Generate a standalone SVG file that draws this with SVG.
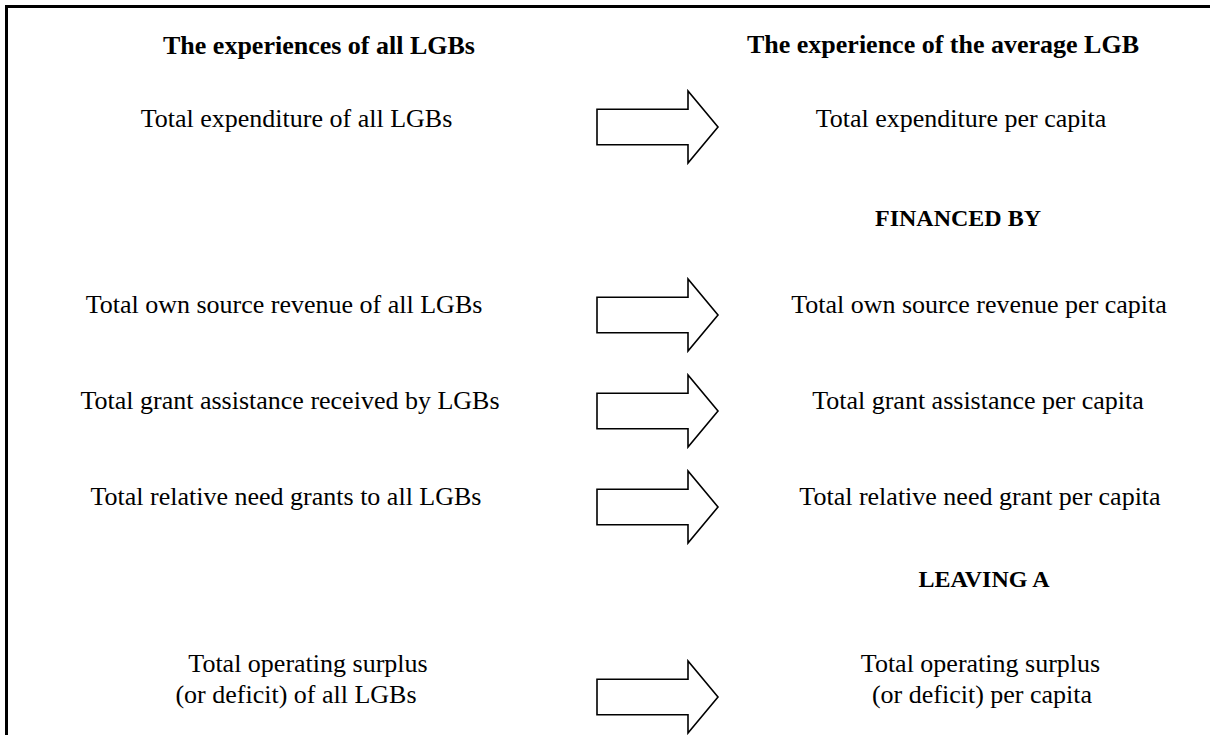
<svg xmlns="http://www.w3.org/2000/svg" xmlns:xlink="http://www.w3.org/1999/xlink" width="1219" height="735" viewBox="0 0 1219 735">
<style>
  text { font-family: "Liberation Serif", "Times New Roman", serif; fill: #000; font-size: 26px; text-anchor: middle; }
  .b { font-weight: bold; }
  .s { font-size: 24px; }
  .arrow { fill: #fff; stroke: #000; stroke-width: 1.6; stroke-linejoin: miter; }
  .frame { stroke: #000; stroke-width: 3; fill: none; }
</style>
<defs>
  <path id="bigArrow" class="arrow" d="M597,-17.7 H688 V-36 L718,0 L688,36 V17.7 H597 Z"/>
</defs>
<rect width="1219" height="735" fill="#fff"/>
<g id="frame">
  <path class="frame" d="M1210,6.5 H6.5 V735"/>
</g>
<g id="headers">
  <text id="left-title" class="b" x="319" y="54">The experiences of all LGBs</text>
  <text id="right-title" class="b" x="943" y="53">The experience of the average LGB</text>
</g>
<g id="node-left-1"><text x="296.5" y="127">Total expenditure of all LGBs</text></g>
<g id="node-right-1"><text x="961" y="127">Total expenditure per capita</text></g>
<g id="label-financed"><text class="b s" x="958" y="226">FINANCED BY</text></g>
<g id="node-left-2"><text x="284" y="313">Total own source revenue of all LGBs</text></g>
<g id="node-right-2"><text x="979" y="313">Total own source revenue per capita</text></g>
<g id="node-left-3"><text x="290" y="409">Total grant assistance received by LGBs</text></g>
<g id="node-right-3"><text x="978" y="409">Total grant assistance per capita</text></g>
<g id="node-left-4"><text x="286" y="505">Total relative need grants to all LGBs</text></g>
<g id="node-right-4"><text x="980" y="505">Total relative need grant per capita</text></g>
<g id="label-leaving"><text class="b s" x="984" y="587">LEAVING A</text></g>
<g id="node-left-5">
  <text x="308" y="672">Total operating surplus</text>
  <text x="296" y="703">(or deficit) of all LGBs</text>
</g>
<g id="node-right-5">
  <text x="980.5" y="672">Total operating surplus</text>
  <text x="982" y="703">(or deficit) per capita</text>
</g>
<g id="connectors">
  <use xlink:href="#bigArrow" y="127"/>
  <use xlink:href="#bigArrow" y="315"/>
  <use xlink:href="#bigArrow" y="411"/>
  <use xlink:href="#bigArrow" y="507"/>
  <use xlink:href="#bigArrow" y="697"/>
</g>
</svg>
